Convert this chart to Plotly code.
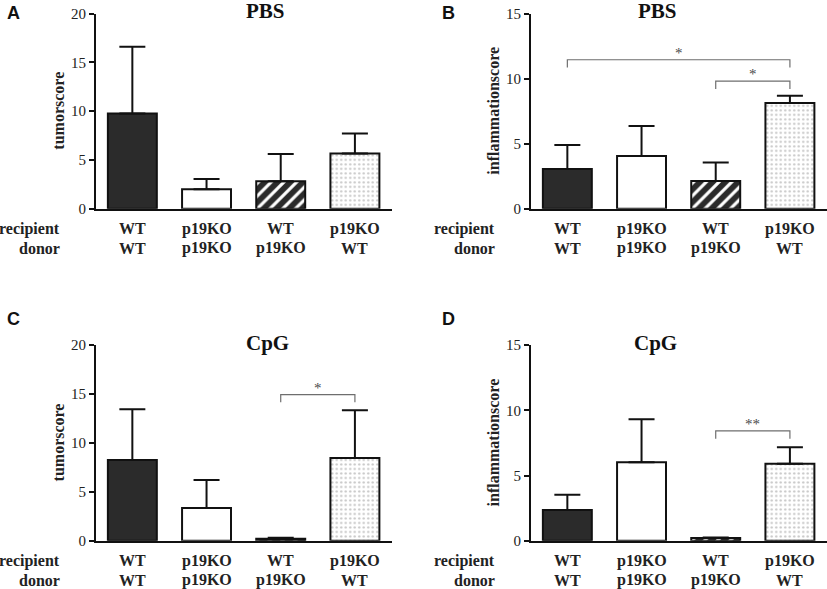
import plotly.graph_objects as go

# groups (recipient / donor)
recipient = ["WT", "p19KO", "WT", "p19KO"]
donor = ["WT", "p19KO", "p19KO", "WT"]

# panel A - PBS tumorscore
tumor_pbs = [9.75, 2.0, 2.8, 5.65]
tumor_pbs_err = [6.85, 1.05, 2.8, 2.05]
# panel B - PBS inflammationscore
infl_pbs = [3.05, 4.05, 2.12, 8.12]
infl_pbs_err = [1.85, 2.3, 1.42, 0.57]
# panel C - CpG tumorscore
tumor_cpg = [8.25, 3.35, 0.2, 8.45]
tumor_cpg_err = [5.2, 2.85, 0.1, 4.9]
# panel D - CpG inflammationscore
infl_cpg = [2.35, 6.02, 0.2, 5.9]
infl_cpg_err = [1.18, 3.3, 0.05, 1.26]

# significance brackets: (from bar, to bar, height, label)
brackets_b = [(0, 3, 11.45, "*"), (2, 3, 9.8, "*")]
brackets_c = [(2, 3, 14.95, "*")]
brackets_d = [(2, 3, 8.43, "**")]

W, H = 827, 589
SERIF = "Liberation Serif"
SANS = "Liberation Sans"

# bar styles: solid dark, open, dark with white stripes, dotted
bar_styles = [
    dict(color="#2b2b2b", pattern=dict(shape="")),
    dict(color="white", pattern=dict(shape="")),
    dict(color="#2b2b2b", pattern=dict(shape="/", fgcolor="white", bgcolor="#2b2b2b",
                                       size=9, solidity=0.35, fillmode="replace")),
    dict(color="white", pattern=dict(shape=".", fgcolor="#909090", bgcolor="white",
                                     size=4.5, solidity=0.22, fillmode="overlay")),
]

# panel frames in screen pixels: x of y-axis / right end, top / bottom of plot,
# y of the panel letter
panels = [
    dict(letter="A", title="PBS", ytitle="tumorscore", vals=tumor_pbs, err=tumor_pbs_err,
         ymax=20, brackets=[], xd=(96, 392), yd=(14, 209.3), ly=13),
    dict(letter="B", title="PBS", ytitle="inflammationscore", vals=infl_pbs, err=infl_pbs_err,
         ymax=15, brackets=brackets_b, xd=(531, 827), yd=(14, 209.3), ly=13),
    dict(letter="C", title="CpG", ytitle="tumorscore", vals=tumor_cpg, err=tumor_cpg_err,
         ymax=20, brackets=brackets_c, xd=(96, 392), yd=(346, 541.7), ly=320),
    dict(letter="D", title="CpG", ytitle="inflammationscore", vals=infl_cpg, err=infl_cpg_err,
         ymax=15, brackets=brackets_d, xd=(531, 827), yd=(346, 541.7), ly=320),
]


def px(x):
    return x / W


def py(y):
    # the page shows the figure a little squeezed and pushed down, so map
    # screen pixels back to paper fractions
    return 1 - (y - 8.4) / (H * 0.974)


fig = go.Figure()
annotations = []
layout = {}

for k, p in enumerate(panels):
    n = "" if k == 0 else str(k + 1)
    xa, ya = "x" + n, "y" + n

    for i, (v, e) in enumerate(zip(p["vals"], p["err"])):
        st = bar_styles[i]
        fig.add_trace(go.Bar(
            x=[i], y=[v], xaxis=xa, yaxis=ya, width=0.66,
            marker=dict(color=st["color"], line=dict(color="#111", width=2),
                        pattern=st["pattern"]),
            error_y=dict(type="data", symmetric=False, array=[e], arrayminus=[0],
                         color="#111", thickness=2, width=13),
            showlegend=False, hoverinfo="y",
        ))

    # brackets
    drop = p["ymax"] * 0.04
    for i, j, h, lab in p["brackets"]:
        fig.add_trace(go.Scatter(
            x=[i, i, j, j], y=[h - drop, h, h, h - drop], xaxis=xa, yaxis=ya,
            mode="lines", line=dict(color="#6e6e6e", width=1.2),
            showlegend=False, hoverinfo="skip",
        ))
        annotations.append(dict(
            x=(i + j) / 2, y=h, xref=xa, yref=ya, text=lab, showarrow=False,
            yanchor="bottom", yshift=-3,
            font=dict(family=SERIF, size=15, color="#4a4a4a"),
        ))

    x0, x1 = p["xd"]
    y0, y1 = p["yd"]
    layout["xaxis" + n] = dict(
        domain=[px(x0), px(x1)], range=[-0.49, 3.5], anchor=ya,
        showline=True, linecolor="#111", linewidth=2, showgrid=False,
        zeroline=False, showticklabels=False, ticks="", fixedrange=True,
    )
    layout["yaxis" + n] = dict(
        domain=[py(y1), py(y0)], range=[0, p["ymax"]], anchor=xa, dtick=5,
        showline=True, linecolor="#111", linewidth=2, showgrid=False,
        zeroline=False, ticks="outside", ticklen=5, tickwidth=2, tickcolor="#111",
        tickfont=dict(family=SERIF, size=15, color="#222"),
    )

    # title, letter, y title
    annotations.append(dict(
        x=px((x0 + x1) / 2), y=py(y0 - 2.5), xref="paper", yref="paper",
        text="<b>%s</b>" % p["title"], showarrow=False, yanchor="middle",
        font=dict(family=SERIF, size=21, color="#111"),
    ))
    annotations.append(dict(
        x=px(x0 - 82.5), y=py(p["ly"]), xref="paper", yref="paper",
        text="<b>%s</b>" % p["letter"], showarrow=False,
        xanchor="center", yanchor="middle",
        font=dict(family=SANS, size=18, color="#111"),
    ))
    annotations.append(dict(
        x=px(x0 - 37.5), y=py((y0 + y1) / 2), xref="paper", yref="paper",
        text="<b>%s</b>" % p["ytitle"], showarrow=False, textangle=-90,
        xanchor="center", yanchor="middle",
        font=dict(family=SERIF, size=16, color="#222"),
    ))

    # group labels under the bars
    for row, (name, labels) in enumerate([("recipient", recipient), ("donor", donor)]):
        yrow = py(y1 + 20 + 19.5 * row)
        annotations.append(dict(
            x=px(x0 - 34), y=yrow, xref="paper", yref="paper",
            text="<b>%s</b>" % name, showarrow=False,
            xanchor="right", yanchor="middle",
            font=dict(family=SERIF, size=16, color="#222"),
        ))
        for i, lab in enumerate(labels):
            annotations.append(dict(
                x=i, y=yrow, xref=xa, yref="paper",
                text="<b>%s</b>" % lab, showarrow=False,
                xanchor="center", yanchor="middle",
                font=dict(family=SERIF, size=16, color="#222"),
            ))

fig.update_layout(
    width=W, height=H,
    margin=dict(l=0, r=0, t=0, b=0),
    paper_bgcolor="white", plot_bgcolor="white",
    barmode="overlay",
    annotations=annotations,
    **layout,
)

fig.write_html("out.html", config={"displayModeBar": False},
               post_script="document.body.style.margin='0';")
